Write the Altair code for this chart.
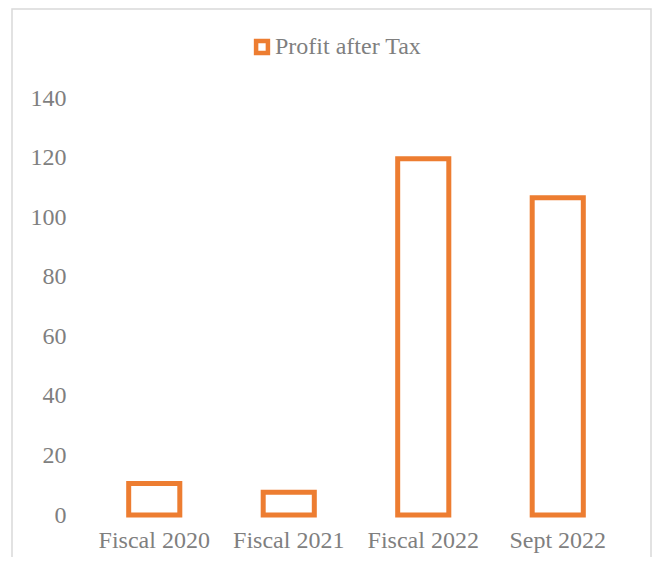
import altair as alt
import pandas as pd

categories = ["Fiscal 2020", "Fiscal 2021", "Fiscal 2022", "Sept 2022"]
profit_after_tax = [10.6, 7.6, 119.6, 106.5]
series_name = "Profit after Tax"
y_ticks = [0, 20, 40, 60, 80, 100, 120, 140]

df = pd.DataFrame({
    "period": categories,
    "value": profit_after_tax,
    "series": [series_name] * len(categories),
})

ORANGE = "#ED7D31"
GRAY = "#7F7F7F"
FONT = "Liberation Serif"
FS = 24

bars = alt.Chart(df).mark_bar(fill="white", strokeWidth=5).encode(
    x=alt.X("period:N", sort=categories,
            scale=alt.Scale(paddingInner=0.62, paddingOuter=0.31),
            axis=alt.Axis(title=None, labelAngle=0, ticks=False, domain=False,
                          labelPadding=13, labelFontSize=FS, labelColor=GRAY,
                          labelFont=FONT)),
    y=alt.Y("value:Q", scale=alt.Scale(domain=[0, 140], nice=False),
            axis=alt.Axis(title=None, values=y_ticks, ticks=False, domain=False,
                          grid=False, labelPadding=21, labelFontSize=FS,
                          labelColor=GRAY, labelFont=FONT)),
    stroke=alt.Stroke("series:N", scale=alt.Scale(range=[ORANGE]),
                      legend=alt.Legend(title=None, orient="none", legendX=163,
                                        legendY=-63, symbolType="square",
                                        symbolFillColor="white",
                                        symbolStrokeWidth=4.5, symbolSize=140,
                                        labelFontSize=FS, labelColor=GRAY,
                                        labelFont=FONT, labelOffset=1,
                                        padding=0)),
)

frame = alt.Chart(alt.Data(values=[{"f": 1}])).mark_rect(
    fill=None, stroke="#D9D9D9", strokeWidth=1.5
).encode(
    x=alt.value(-75), x2=alt.value(564),
    y=alt.value(-89), y2=alt.value(480),
)

chart = alt.layer(frame, bars).properties(
    width=538, height=417,
    autosize=alt.AutoSizeParams(type="none"),
    padding={"left": 79, "top": 90, "right": 27, "bottom": 42},
).configure(font=FONT).configure_view(stroke=None)

chart.save("out.html", embed_options={"renderer": "svg", "actions": False})
